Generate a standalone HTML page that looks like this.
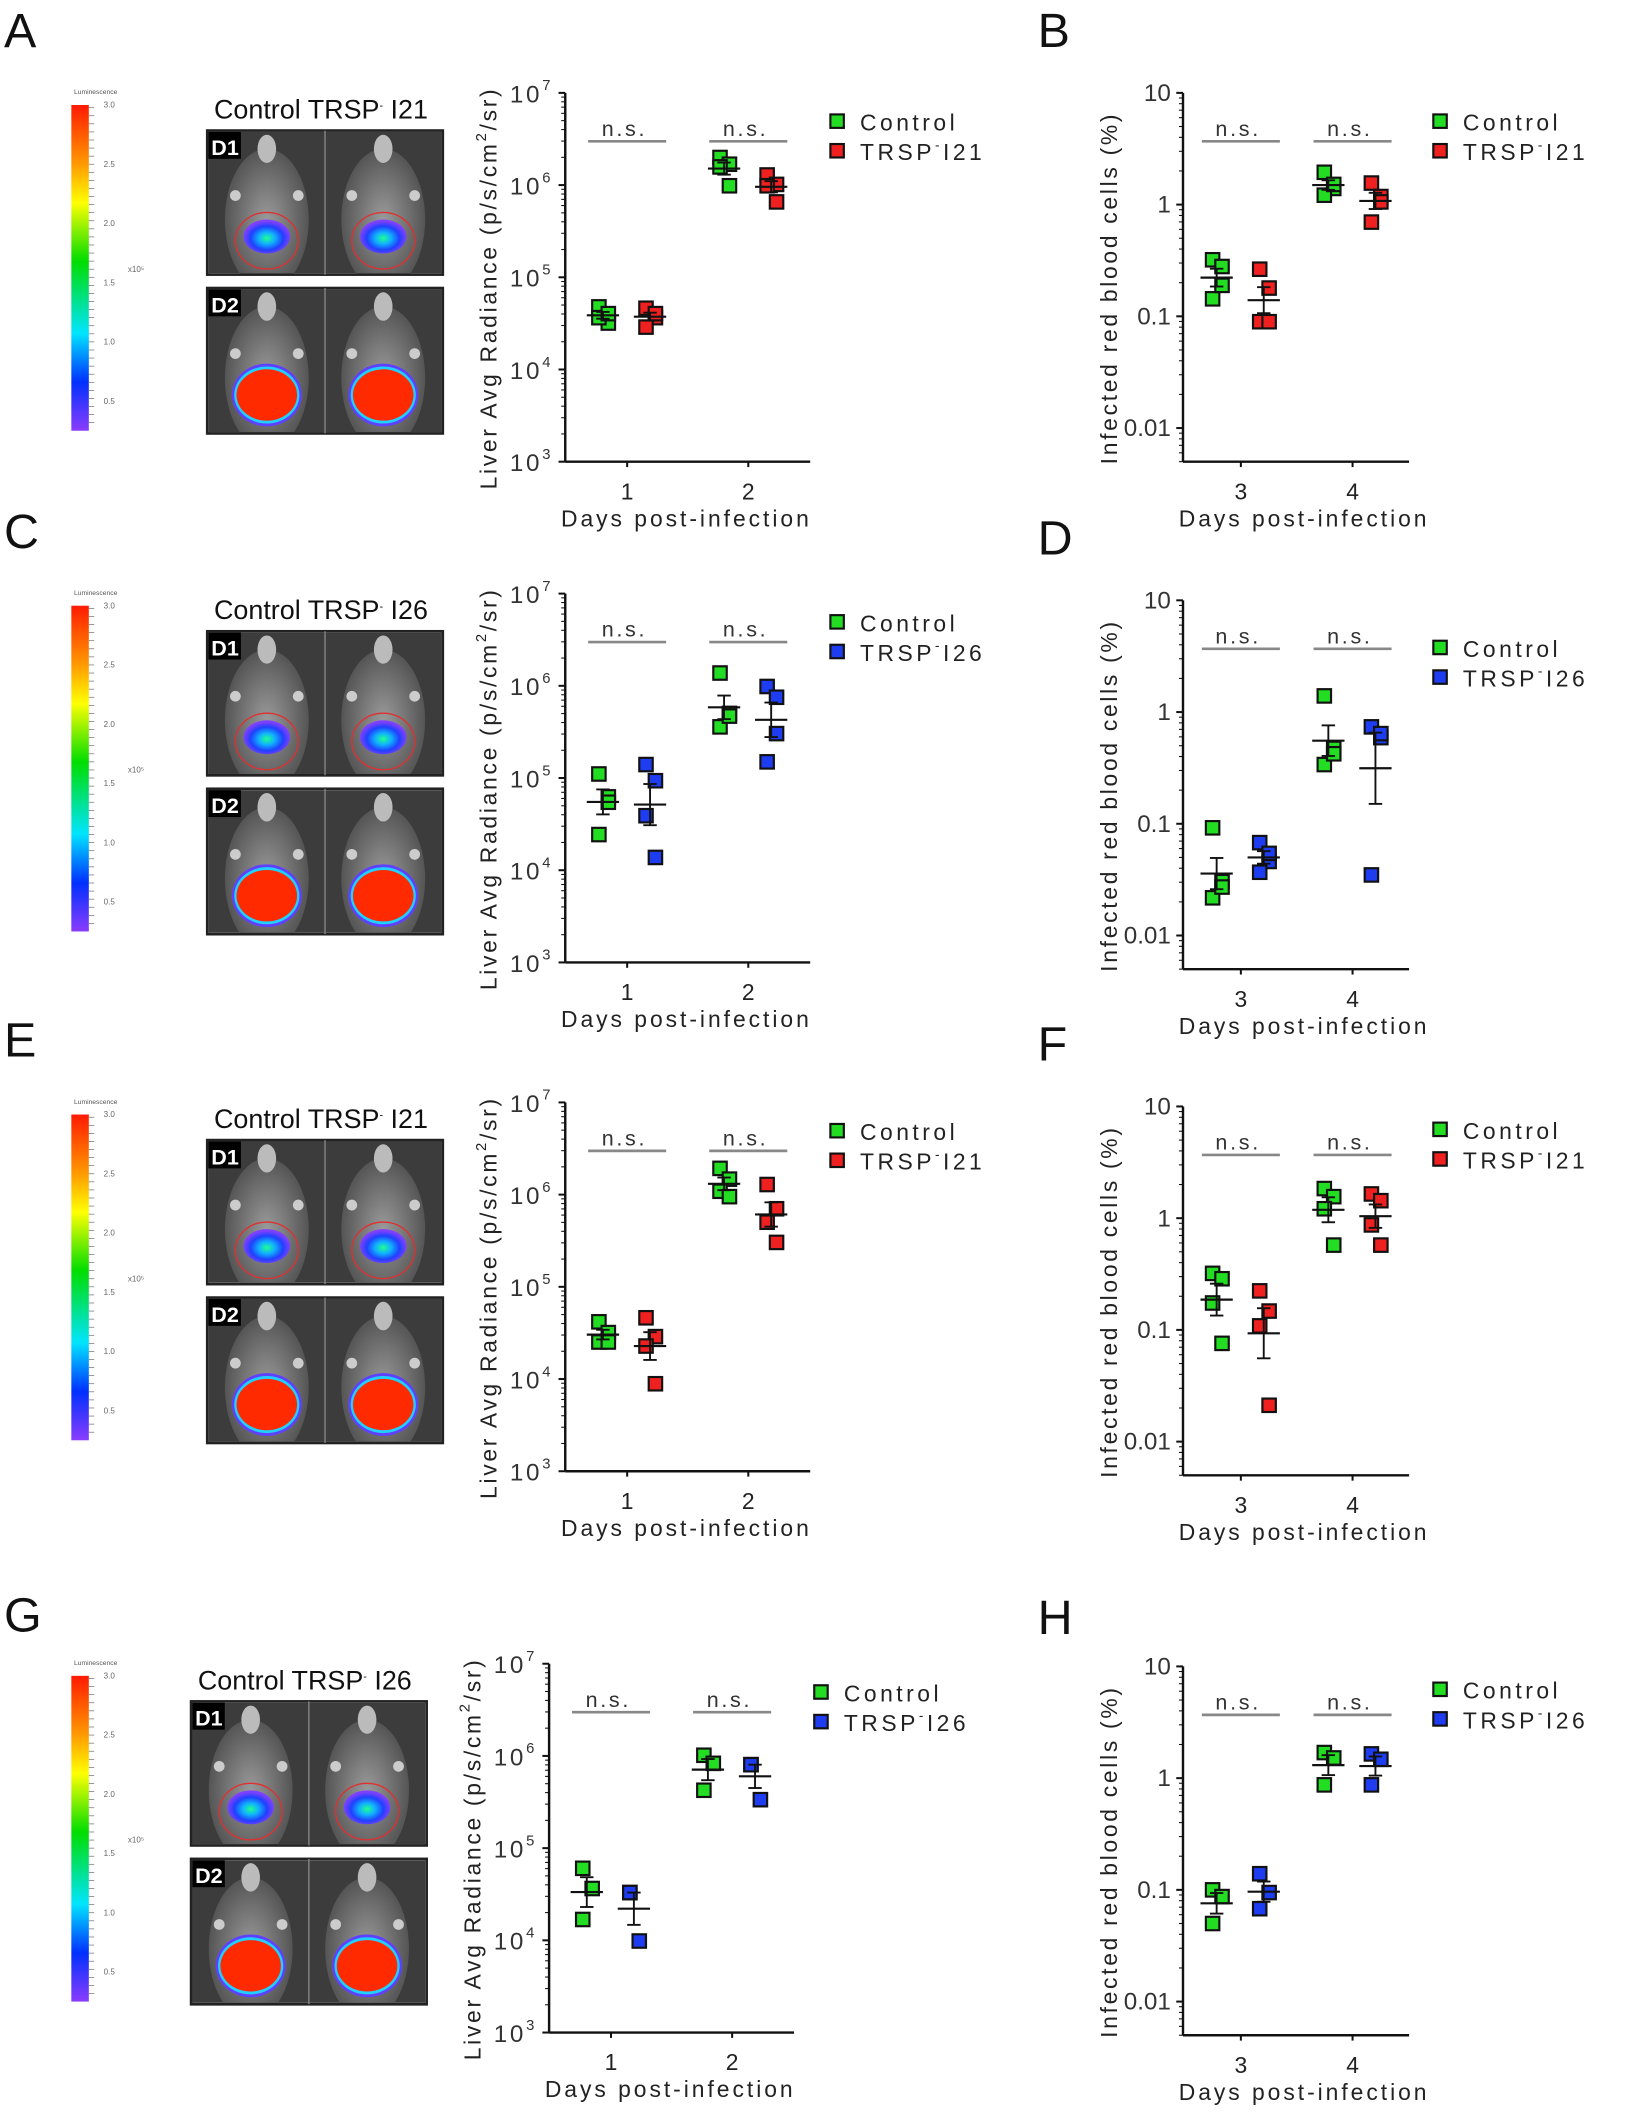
<!DOCTYPE html>
<html><head><meta charset="utf-8">
<style>html,body{margin:0;padding:0;background:#fff;}svg{display:block}</style>
</head><body>
<svg id="s" xmlns="http://www.w3.org/2000/svg" width="1650" height="2116" viewBox="0 0 1226 1572" preserveAspectRatio="none" font-family="Liberation Sans, sans-serif">
<defs id="defs">
<linearGradient id="cb" x1="0" y1="0" x2="0" y2="1">
<stop offset="0" stop-color="#ff1a00"/><stop offset="0.18" stop-color="#ff9900"/><stop offset="0.3" stop-color="#ffff00"/><stop offset="0.48" stop-color="#00dd00"/><stop offset="0.7" stop-color="#00e5ff"/><stop offset="0.85" stop-color="#0030ff"/><stop offset="1" stop-color="#8a3cff"/>
</linearGradient>
<radialGradient id="body" cx="0.5" cy="0.5" r="0.5"><stop offset="0" stop-color="#9a9a9a"/><stop offset="1" stop-color="#555"/></radialGradient>
<radialGradient id="blueblob" cx="0.5" cy="0.55" r="0.5"><stop offset="0" stop-color="#20ff90"/><stop offset="0.35" stop-color="#10b0ff"/><stop offset="0.7" stop-color="#2040ff"/><stop offset="1" stop-color="#8040ff"/></radialGradient>
</defs>
<g id="g"></g>
</svg>
<script>
var NS="http://www.w3.org/2000/svg",G=document.getElementById('g'),D=document.getElementById('defs'),cid=0;
function el(t,a,txt,p){var e=document.createElementNS(NS,t);for(var k in a)e.setAttribute(k,a[k]);if(txt!=null)e.textContent=txt;(p||G).appendChild(e);return e;}
var GREEN="#22dd22",RED="#ee2020",BLUE="#1e3cf0";
function mouse(x,y,w,h,type){
 var id='c'+(cid++);var cp=el('clipPath',{id:id},null,D);el('rect',{x:x,y:y,width:w,height:h},null,cp);
 var g=el('g',{'clip-path':'url(#'+id+')'});
 el('rect',{x:x,y:y,width:w,height:h,fill:'#3c3c3c'},null,g);
 var cx=x+w/2;
 el('ellipse',{cx:cx,cy:y+h*0.62,rx:w*0.36,ry:h*0.5,fill:'url(#body)'},null,g);
 el('ellipse',{cx:cx,cy:y+h*0.12,rx:w*0.08,ry:h*0.1,fill:'#bbb'},null,g);
 el('circle',{cx:cx-w*0.27,cy:y+h*0.45,r:4,fill:'#ccc'},null,g);
 el('circle',{cx:cx+w*0.27,cy:y+h*0.45,r:4,fill:'#ccc'},null,g);
 if(type==1){
  el('ellipse',{cx:cx,cy:y+h*0.77,rx:w*0.27,ry:h*0.2,fill:'none',stroke:'#e03030','stroke-width':1},null,g);
  el('ellipse',{cx:cx,cy:y+h*0.74,rx:w*0.2,ry:h*0.12,fill:'url(#blueblob)'},null,g);
 }else{
  el('ellipse',{cx:cx,cy:y+h*0.74,rx:w*0.3,ry:h*0.22,fill:'#6040ff'},null,g);
  el('ellipse',{cx:cx,cy:y+h*0.74,rx:w*0.28,ry:h*0.2,fill:'#20d0ff'},null,g);
  el('ellipse',{cx:cx,cy:y+h*0.74,rx:w*0.26,ry:h*0.18,fill:'#ff2a00'},null,g);
 }
}
function leftPanel(oy,ox,name){
 el('rect',{x:53,y:78+oy,width:13,height:242,fill:'url(#cb)'});
 el('text',{x:55,y:70+oy,'font-size':5,fill:'#555'},'Luminescence');
 var labs=['3.0','2.5','2.0','1.5','1.0','0.5'];
 for(var i=0;i<6;i++){el('text',{x:77,y:80+oy+i*44,'font-size':6,fill:'#666'},labs[i]);}
 for(var i=0;i<40;i++)el('line',{x1:66,x2:70,y1:80+oy+i*6,y2:80+oy+i*6,stroke:'#666','stroke-width':0.5});
 el('text',{x:95,y:202+oy,'font-size':6,fill:'#666'},'x10⁵');
 var t=el('text',{x:159+ox,y:88+oy,'font-size':20,fill:'#111'});
 t.innerHTML='Control  TRSP<tspan font-size="8" dy="-7">-</tspan><tspan dy="7"> '+name+'</tspan>';
 var bx=154+ox,w=175;
 [[97,107,1,'D1'],[214,108,2,'D2']].forEach(function(p){
  var y=p[0]+oy,h=p[1];
  mouse(bx+1,y+1,w/2-1,h-2,p[2]);mouse(bx+w/2,y+1,w/2-1,h-2,p[2]);
  el('rect',{x:bx,y:y,width:w,height:h,fill:'none',stroke:'#222','stroke-width':2});
  el('line',{x1:bx+w/2,x2:bx+w/2,y1:y,y2:y+h,stroke:'#888','stroke-width':1});
  el('rect',{x:bx+1,y:y+1,width:24,height:20,fill:'#000'});
  el('text',{x:bx+3,y:y+18,'font-size':16,'font-weight':'bold',fill:'#fff'},p[3]);
 });
}
function sq(x,y,c){el('rect',{x:x-5,y:y-5,width:10,height:10,fill:c,stroke:'#111','stroke-width':1.6});}
function group(x,ys,c){
 ys.forEach(function(y,i){sq(x+(i%2?4:-3),y,c);});
 var m=ys.reduce(function(a,b){return a+b},0)/ys.length;
 var sd=0;ys.forEach(function(y){sd+=(y-m)*(y-m)});sd=Math.sqrt(sd/(ys.length-1))/Math.sqrt(ys.length);
 el('line',{x1:x-12,x2:x+12,y1:m,y2:m,stroke:'#111','stroke-width':1.6});
 el('line',{x1:x,x2:x,y1:m-sd,y2:m+sd,stroke:'#111','stroke-width':1.4});
 el('line',{x1:x-5,x2:x+5,y1:m-sd,y2:m-sd,stroke:'#111','stroke-width':1.4});
 el('line',{x1:x-5,x2:x+5,y1:m+sd,y2:m+sd,stroke:'#111','stroke-width':1.4});
}
function chart(o){
 var ax=o.ax,top=o.top,bot=top+274,dec=o.dec,n=o.labs.length;
 el('line',{x1:ax,x2:ax,y1:top,y2:bot,stroke:'#111','stroke-width':1.8});
 el('line',{x1:ax,x2:ax+182-(o.b?14:0),y1:bot,y2:bot,stroke:'#111','stroke-width':1.8});
 for(var i=0;i<n;i++){
  var y=top+i*dec;
  el('line',{x1:ax-5,x2:ax,y1:y,y2:y,stroke:'#111','stroke-width':1.5});
  if(o.b){el('text',{x:ax-9,y:y+6,'font-size':18,'text-anchor':'end',fill:'#333'},o.labs[i]);}
  else{var t=el('text',{x:ax-9,y:y+7,'font-size':18,'text-anchor':'end',fill:'#333','letter-spacing':2});t.innerHTML='10<tspan font-size="11" dy="-9">'+o.labs[i]+'</tspan>';}
  for(var k=2;k<10;k++){var yy=y+dec-Math.log10(k)*dec;if(yy<=bot)el('line',{x1:ax-3,x2:ax,y1:yy,y2:yy,stroke:'#111','stroke-width':0.8});}
 }
 o.ticks.forEach(function(tx,i){
  el('line',{x1:tx,x2:tx,y1:bot,y2:bot+4,stroke:'#111','stroke-width':1.5});
  el('text',{x:tx,y:bot+28,'font-size':17,'text-anchor':'middle',fill:'#222'},o.tl[i]);
  el('text',{x:tx-2,y:top+32,'font-size':16,'text-anchor':'middle',fill:'#333','letter-spacing':2},'n.s.');
  el('line',{x1:tx-29,x2:tx+29,y1:top+36,y2:top+36,stroke:'#888','stroke-width':2});
 });
 el('text',{x:ax+90,y:bot+48,'font-size':17,'text-anchor':'middle',fill:'#222','letter-spacing':2.2},'Days post-infection');
 var yl=el('text',{transform:'translate('+(o.b?ax-49:ax-51)+','+(top+145)+') rotate(-90)','font-size':17,'text-anchor':'middle',fill:'#222','letter-spacing':2});
 if(o.b)yl.textContent='Infected red blood cells (%)';else yl.innerHTML='Liver Avg Radiance (p/s/cm<tspan font-size="11" dy="-8">2</tspan><tspan dy="8">/sr)</tspan>';
 var lx=o.lx,ly=o.ly;
 sq(lx+5,ly-7,GREEN);sq(lx+5,ly+15,o.c2);
 el('text',{x:lx+22,y:ly,'font-size':17,fill:'#222','letter-spacing':2.6},'Control');
 var t=el('text',{x:lx+22,y:ly+22,'font-size':17,fill:'#222','letter-spacing':2.6});t.innerHTML='TRSP<tspan font-size="10" dy="-8">-</tspan><tspan dy="8">'+o.name+'</tspan>';
 o.d.forEach(function(g,i){group(o.ticks[i>>1]+(i%2?17:-18),g,i%2?o.c2:GREEN);});
}
var rows=[
 {L:['A','B'],oy:0,oy2:0,gx:0,lx1:0,name:'I21',c2:RED,ly2:97,
  d1:[[228,240,236,233],[229,236,243,233],[117,122,124,138],[130,137,138,150]],
  d2:[[193,198,222,212],[200,214,239,239],[128,140,145,137],[136,146,165,150]]},
 {L:['C','D'],oy:372,oy2:377,gx:0,lx1:0,name:'I26',c2:BLUE,ly2:488,
  d1:[[575,592,620,596],[568,580,606,637],[500,530,540,532],[510,518,566,545]],
  d2:[[615,655,667,659],[626,640,648,634],[517,556,568,560],[540,548,650,545]]},
 {L:['E','F'],oy:750,oy2:753,gx:0,lx1:0,name:'I21',c2:RED,ly2:846,
  d1:[[982,990,997,997],[979,993,1000,1028],[868,876,885,889],[880,898,908,923]],
  d2:[[946,950,968,998],[959,974,985,1044],[883,889,898,925],[887,892,910,925]]},
 {L:['G','H'],oy:1167,oy2:1169,gx:-12,lx1:-12,name:'I26',c2:BLUE,ly2:1262,
  d1:[[1388,1403,1426],[1406,1442,1406],[1304,1310,1330],[1311,1337,1311]],
  d2:[[1404,1409,1429],[1392,1406,1418],[1302,1306,1326],[1303,1307,1326]]}
];
rows.forEach(function(r){
 el('text',{x:3,y:35+r.oy+(r.L[0]=='G'?10:0),'font-size':36,fill:'#111'},r.L[0]);
 el('text',{x:771,y:35+r.oy2+(r.L[0]=='G'?10:0),'font-size':36,fill:'#111'},r.L[1]);
 leftPanel(r.oy,r.gx,r.name);
 chart({ax:420+r.gx,top:69+r.oy,dec:68.5,labs:['7','6','5','4','3'],ticks:[466+r.gx,556+r.gx],tl:['1','2'],lx:617+r.lx1,ly:97+r.oy,c2:r.c2,name:r.name,d:r.d1});
 chart({b:1,ax:879,top:69+r.oy2,dec:83,labs:['10','1','0.1','0.01'],ticks:[922,1005],tl:['3','4'],lx:1065,ly:r.ly2,c2:r.c2,name:r.name,d:r.d2});
});
</script>
</body></html>
